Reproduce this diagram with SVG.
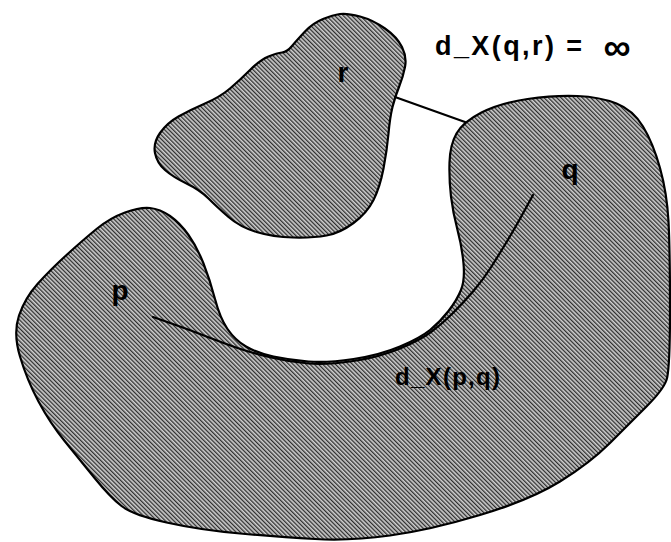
<svg xmlns="http://www.w3.org/2000/svg" width="671" height="542" viewBox="0 0 671 542">
<defs>
<pattern id="hatch" patternUnits="userSpaceOnUse" width="3" height="3" patternTransform="rotate(-45)">
<rect width="3" height="3" fill="#cfcfcf"/>
<rect width="1.3" height="3" fill="#2e2e2e"/>
</pattern>
</defs>
<style>
.blob{fill:url(#hatch);stroke:#000;stroke-width:2.2;stroke-linejoin:round}
.conn{fill:none;stroke:#000;stroke-width:2.2;stroke-linecap:round}
.lbl{font-family:"Liberation Sans",Arial,sans-serif;font-weight:bold;fill:#000}
</style>
<rect width="671" height="542" fill="#fff"/>
<g id="space-X">
<path class="blob" d="M125,212.5 Q140,207 150,208 Q160,209 170,216 Q180,223 188.5,235 Q197,247 203.5,263.5 Q210,280 215,299 Q220,318 227.5,329 Q235,340 246,346.5 Q257,353 273.5,356.5 Q290,360 308.5,361.5 Q327,363 353.5,359 Q380,355 400,346.5 Q420,338 430,330 Q440,322 448.5,311 Q457,300 461,290 Q465,280 463.5,263.5 Q462,247 457.5,230 Q453,213 451,196.5 Q449,180 449.5,162.5 Q450,145 456.5,133.5 Q463,122 481.5,112.5 Q500,103 527.5,99 Q555,95 577.5,96 Q600,97 616.5,103.5 Q633,110 643,126.5 Q653,143 660,168 Q667,193 668.5,221.5 Q670,250 670,310 Q670,370 666.5,380 Q663,390 646.5,406.5 Q630,423 610,443 Q590,463 560,481.5 Q530,500 480,515 Q430,530 390,535.5 Q350,541 315,539 Q280,537 240,533.5 Q200,530 166.5,522.5 Q133,515 121.5,506 Q110,497 95,478.5 Q80,460 65,441.5 Q50,423 38.5,401.5 Q27,380 20,356.5 Q13,333 19,315.5 Q25,298 37.5,284 Q50,270 66.5,255 Q83,240 96.5,229 Q110,218 125,212.5 Z"/>
</g>
<g id="component-r">
<path class="blob" d="M323,19 Q333,15 340,14 Q347,13 360,16.5 Q373,20 385,28.5 Q397,37 402,47 Q407,57 405,67 Q403,77 399,87 Q395,97 392.5,107 Q390,117 388.5,133.5 Q387,150 383.5,168.5 Q380,187 373.5,200 Q367,213 353.5,223 Q340,233 326.5,235.5 Q313,238 293,237.5 Q273,237 256.5,232 Q240,227 228.5,217 Q217,207 208.5,198.5 Q200,190 186.5,183.5 Q173,177 165,170 Q157,163 155,153 Q153,143 160,133 Q167,123 178.5,116.5 Q190,110 205,103.5 Q220,97 230,88.5 Q240,80 250,70 Q260,60 268.5,56.5 Q277,53 282,52.5 Q287,52 292,46 Q297,40 305,31.5 Q313,23 323,19 Z"/>
<text class="lbl" x="343" y="82" font-size="28" text-anchor="middle">r</text>
</g>
<g id="point-q">
<text class="lbl" x="570" y="179" font-size="28" text-anchor="middle">q</text>
</g>
<g id="point-p">
<text class="lbl" x="120" y="300" font-size="28" text-anchor="middle">p</text>
</g>
<g id="connectors">
<line class="conn" x1="395" y1="97" x2="465" y2="122"/>
<path class="conn" stroke-width="2.6" d="M153,317 L171.5,323.5 Q190,330 206.5,336.5 Q223,343 237.5,348 Q252,353 271,357.5 Q290,362 308.5,363.5 Q327,365 353.5,361 Q380,357 400,348.5 Q420,340 431,332 Q442,324 452.5,313.5 Q463,303 473,291.5 Q483,280 491.5,266.5 Q500,253 507.5,240.5 Q515,228 524,211.5 L533,195"/>
</g>
<g id="labels">
<text class="lbl" x="435" y="55" font-size="27" textLength="147" lengthAdjust="spacing">d_X(q,r) =</text>
<text class="lbl" x="617" y="60" font-size="38" text-anchor="middle">∞</text>
<text class="lbl" x="395" y="385" font-size="24" textLength="105" lengthAdjust="spacing">d_X(p,q)</text>
</g>
</svg>
